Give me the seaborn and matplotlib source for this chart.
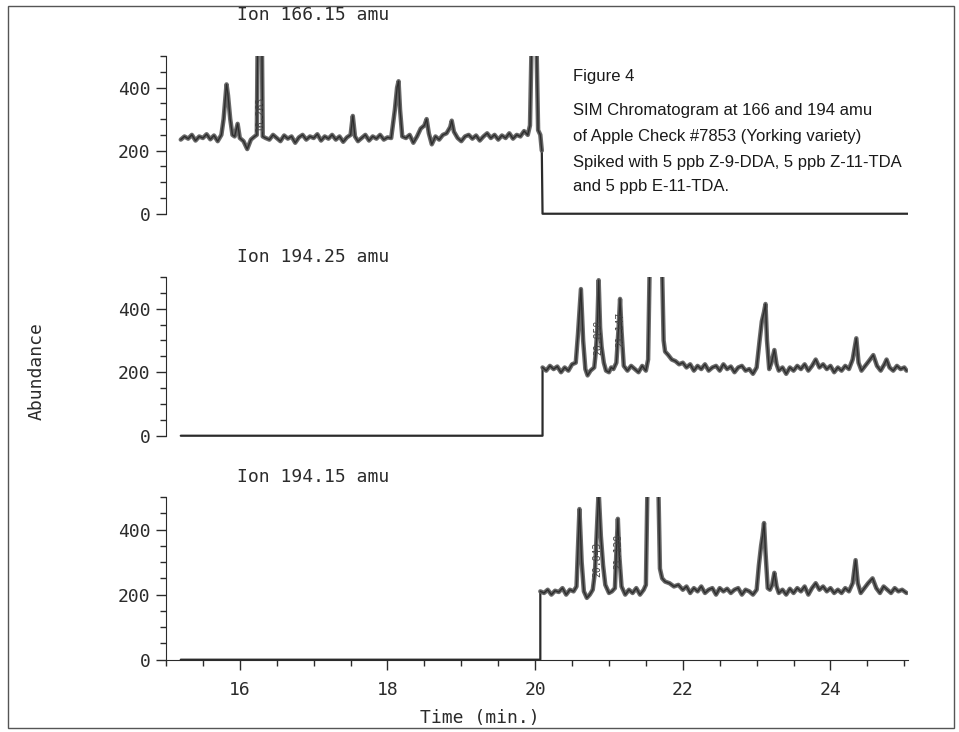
import pandas as pd
import matplotlib.pyplot as plt
import seaborn as sns
from matplotlib.ticker import MultipleLocator
from matplotlib.patches import Rectangle

# ---- data (time in min, abundance) ----
# values of 520 mark peaks that run off the top of the scale
t_166 = [15.20, 15.25, 15.30, 15.35, 15.40, 15.45, 15.50, 15.55, 15.60, 15.65,
         15.70, 15.75, 15.78, 15.82, 15.84, 15.87, 15.90, 15.93, 15.97, 16.00,
         16.05, 16.10, 16.15, 16.20, 16.23, 16.24, 16.30, 16.31, 16.35, 16.40,
         16.45, 16.50, 16.55, 16.60, 16.65, 16.70, 16.75, 16.80, 16.85, 16.90,
         16.95, 17.00, 17.05, 17.10, 17.15, 17.20, 17.25, 17.30, 17.35, 17.40,
         17.45, 17.50, 17.53, 17.56, 17.60, 17.65, 17.70, 17.75, 17.80, 17.85,
         17.90, 17.95, 18.00, 18.05, 18.10, 18.13, 18.15, 18.17, 18.20, 18.25,
         18.30, 18.35, 18.40, 18.45, 18.50, 18.53, 18.56, 18.60, 18.65, 18.70,
         18.75, 18.80, 18.85, 18.87, 18.90, 18.95, 19.00, 19.05, 19.10, 19.15,
         19.20, 19.25, 19.30, 19.35, 19.40, 19.45, 19.50, 19.55, 19.60, 19.65,
         19.70, 19.75, 19.80, 19.85, 19.90, 19.93, 19.95, 20.02, 20.04, 20.07,
         20.09, 20.10, 25.05]
a_166 = [235, 245, 238, 250, 232, 245, 240, 252, 236, 248,
         230, 250, 300, 410, 375, 300, 250, 245, 285, 240,
         230, 205, 235, 245, 250, 520, 520, 245, 240, 235,
         250, 240, 230, 248, 238, 245, 225, 242, 250, 235,
         245, 240, 252, 232, 245, 238, 250, 235, 245, 228,
         242, 250, 310, 245, 230, 240, 250, 232, 245, 238,
         250, 235, 242, 240, 330, 400, 420, 330, 245, 240,
         250, 225, 245, 270, 280, 300, 255, 220, 245, 235,
         250, 255, 275, 295, 260, 240, 230, 245, 250, 238,
         248, 232, 245, 255, 240, 250, 235, 248, 240, 255,
         238, 250, 245, 262, 250, 280, 520, 520, 265, 250,
         200, 0, 0]

t_19425 = [15.20, 20.10, 20.10, 20.15, 20.20, 20.25, 20.30, 20.35, 20.40, 20.45,
           20.50, 20.55, 20.58, 20.62, 20.65, 20.68, 20.71, 20.75, 20.80, 20.82,
           20.84, 20.86, 20.88, 20.90, 20.93, 20.96, 21.00, 21.03, 21.06, 21.10,
           21.13, 21.15, 21.17, 21.20, 21.25, 21.30, 21.35, 21.40, 21.45, 21.50,
           21.53, 21.55, 21.72, 21.74, 21.76, 21.80, 21.85, 21.90, 21.95, 22.00,
           22.05, 22.10, 22.15, 22.20, 22.25, 22.30, 22.35, 22.40, 22.45, 22.50,
           22.55, 22.60, 22.65, 22.70, 22.75, 22.80, 22.85, 22.90, 22.95, 23.00,
           23.04, 23.07, 23.10, 23.12, 23.14, 23.17, 23.20, 23.24, 23.27, 23.30,
           23.35, 23.40, 23.45, 23.50, 23.55, 23.60, 23.65, 23.70, 23.75, 23.80,
           23.85, 23.90, 23.95, 24.00, 24.05, 24.10, 24.15, 24.20, 24.25, 24.30,
           24.35, 24.38, 24.42, 24.47, 24.52, 24.58, 24.63, 24.68, 24.73, 24.76,
           24.80, 24.85, 24.90, 24.95, 25.00, 25.03]
a_19425 = [0, 0, 215, 205, 220, 210, 218, 200, 215, 205,
           225, 230, 320, 462, 300, 210, 190, 205, 215, 260,
           330, 490, 340, 280, 230, 205, 200, 215, 210, 230,
           340, 431, 330, 220, 205, 220, 210, 200, 220, 205,
           240, 520, 520, 300, 265, 255, 240, 235, 225, 230,
           215, 225, 205, 220, 210, 225, 205, 215, 220, 205,
           225, 210, 218, 200, 215, 220, 205, 210, 195, 215,
           300, 360, 390, 415, 300, 210, 230, 270, 225, 205,
           215, 195, 215, 205, 220, 210, 225, 205, 220, 240,
           215, 225, 210, 220, 200, 215, 205, 220, 210, 240,
           307, 230, 205, 220, 235, 254, 220, 205, 225, 240,
           215, 205, 220, 210, 215, 205]

t_19415 = [15.20, 20.07, 20.07, 20.12, 20.17, 20.22, 20.27, 20.32, 20.37, 20.42,
           20.47, 20.52, 20.56, 20.60, 20.63, 20.66, 20.70, 20.74, 20.78, 20.81,
           20.84, 20.86, 20.89, 20.92, 20.95, 21.00, 21.04, 21.08, 21.10, 21.12,
           21.14, 21.17, 21.22, 21.27, 21.32, 21.37, 21.42, 21.47, 21.50, 21.52,
           21.67, 21.69, 21.72, 21.76, 21.82, 21.88, 21.94, 22.00, 22.05, 22.10,
           22.15, 22.20, 22.25, 22.30, 22.35, 22.40, 22.45, 22.50, 22.55, 22.60,
           22.65, 22.70, 22.75, 22.80, 22.85, 22.90, 22.95, 23.00, 23.03, 23.06,
           23.08, 23.10, 23.12, 23.15, 23.18, 23.21, 23.24, 23.27, 23.30, 23.35,
           23.40, 23.45, 23.50, 23.55, 23.60, 23.65, 23.70, 23.75, 23.80, 23.85,
           23.90, 23.95, 24.00, 24.05, 24.10, 24.15, 24.20, 24.25, 24.30, 24.34,
           24.37, 24.41, 24.46, 24.51, 24.57, 24.62, 24.67, 24.72, 24.77, 24.82,
           24.87, 24.92, 24.97, 25.03]
a_19415 = [0, 0, 210, 205, 215, 200, 212, 208, 220, 200,
           215, 210, 225, 463, 300, 210, 190, 200, 215, 270,
           420, 520, 380, 290, 230, 205, 210, 220, 330, 433,
           320, 225, 200, 215, 205, 220, 200, 215, 230, 520,
           520, 280, 250, 240, 235, 225, 230, 215, 225, 205,
           220, 210, 225, 205, 215, 220, 200, 220, 210, 218,
           205, 215, 220, 200, 215, 210, 200, 215, 290, 350,
           380, 420, 330, 220, 215, 230, 267, 225, 205, 215,
           200, 218, 205, 220, 210, 225, 200, 220, 235, 215,
           225, 210, 220, 205, 215, 205, 220, 210, 235, 306,
           235, 205, 220, 235, 250, 220, 205, 225, 215, 205,
           220, 210, 215, 205]

ion_labels = ["Ion 166.15 amu", "Ion 194.25 amu", "Ion 194.15 amu"]
peak_tags = [[(16.27, 262, "16.263")],
             [(20.86, 255, "20.858"), (21.15, 280, "21.147")],
             [(20.84, 255, "20.843"), (21.12, 280, "21.128")]]
caption = ["Figure 4",
           "SIM Chromatogram at 166 and 194 amu",
           "of Apple Check #7853 (Yorking variety)",
           "Spiked with 5 ppb Z-9-DDA, 5 ppb Z-11-TDA",
           "and 5 ppb E-11-TDA."]

sns.set_style("ticks")
plt.rcParams['font.family'] = ['DejaVu Sans Mono', 'DejaVu Sans']
INK = '#2b2b2b'
BAND = '#5a5a5a'
MONO = 'DejaVu Sans Mono'

fig = plt.figure(figsize=(9.59, 7.32), dpi=100)
W, H = 959, 732


def fx(px):
    return px / W


def fy(py):
    return 1 - py / H


left, right = 166, 908
panels = [(56, 215), (277, 437), (497, 661)]
traces = [(t_166, a_166), (t_19425, a_19425), (t_19415, a_19415)]
title_y = [15, 257, 477]

axes = []
for i, ((top, bot), (tt, aa)) in enumerate(zip(panels, traces)):
    ax = fig.add_axes([fx(left), fy(bot), fx(right - left), (bot - top) / H])
    df = pd.DataFrame({'time': tt, 'abundance': aa})
    sig = df[df['abundance'] > 0]
    sns.lineplot(data=df, x='time', y='abundance', ax=ax, sort=False,
                 estimator=None, color=INK, lw=1.6)
    sns.lineplot(data=sig, x='time', y='abundance', ax=ax, sort=False,
                 estimator=None, color=BAND, lw=3.2, alpha=0.9)
    sns.lineplot(data=sig, x='time', y='abundance', ax=ax, sort=False,
                 estimator=None, color=INK, lw=0.8)
    ax.set_xlim(15.0, 25.05)
    ax.set_ylim(-4, 500)
    ax.spines['left'].set_bounds(0, 500)
    ax.spines['left'].set_color(INK)
    ax.spines['top'].set_visible(False)
    ax.spines['right'].set_visible(False)
    ax.set_yticks([0, 200, 400])
    ax.set_yticklabels(['0', '200', '400'])
    ax.yaxis.set_minor_locator(MultipleLocator(50))
    ax.tick_params(axis='y', which='major', length=7, width=1, color=INK,
                   labelsize=13, labelcolor=INK, pad=4)
    ax.tick_params(axis='y', which='minor', length=4, width=1, color=INK)
    ax.set_xlabel('')
    ax.set_ylabel('')
    for lab in ax.get_yticklabels():
        lab.set_family(MONO)
    for (tx, ty, s) in peak_tags[i]:
        ax.text(tx, ty, s, rotation=90, fontsize=7, family=MONO, color='#444444',
                ha='center', va='bottom')
    fig.text(fx(237), fy(title_y[i]), ion_labels[i], fontsize=13, family=MONO,
             color=INK, ha='left', va='center')
    if i < 2:
        ax.spines['bottom'].set_visible(False)
        ax.tick_params(axis='x', which='both', bottom=False, labelbottom=False)
    else:
        ax.spines['bottom'].set_position(('data', 0))
        ax.spines['bottom'].set_color(INK)
        ax.set_xticks([16, 18, 20, 22, 24])
        ax.xaxis.set_minor_locator(MultipleLocator(0.5))
        ax.tick_params(axis='x', which='major', length=7, width=1, color=INK,
                       labelsize=13, labelcolor=INK, pad=8)
        ax.tick_params(axis='x', which='minor', length=4, width=1, color=INK)
    axes.append(ax)

fig.text(fx(37), fy(371), 'Abundance', rotation=90, fontsize=13, family=MONO,
         color=INK, ha='center', va='center')
fig.text(fx(480), fy(718), 'Time (min.)', fontsize=13, family=MONO,
         color=INK, ha='center', va='center')

cap_y = [77, 110, 136, 162, 187]
for line, py in zip(caption, cap_y):
    fig.text(fx(573), fy(py), line, fontsize=12, family='Liberation Sans',
             color='#1a1a1a', ha='left', va='center')

# scanned page frame
fig.patches.append(Rectangle((fx(8), fy(728)), fx(946), (728 - 6) / H,
                             transform=fig.transFigure, fill=False,
                             edgecolor='#555555', lw=1.0))

fig.savefig('out.png', dpi=100, facecolor='white')
